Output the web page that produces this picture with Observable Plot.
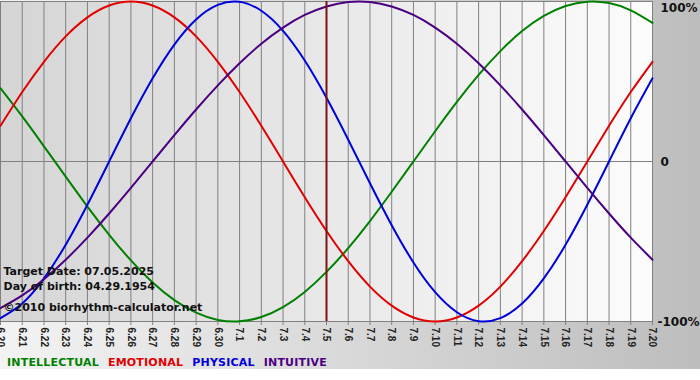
<!DOCTYPE html>
<html><head><meta charset="utf-8">
<script src="https://cdn.jsdelivr.net/npm/d3@7"></script>
<script src="https://cdn.jsdelivr.net/npm/@observablehq/plot@0.6"></script>
<style>
body{margin:0;background:#fff;}
#wrap{width:700px;height:369px;background:linear-gradient(to right,#f3f3f3,#bdbdbd);position:relative;overflow:hidden}
#chart svg{display:block}
#legend{position:absolute;left:7px;top:355px;font:bold 11px "DejaVu Sans";white-space:nowrap;line-height:15px;letter-spacing:0.2px}
#legend span{margin-right:9px}
</style></head>
<body><div id="wrap"><div id="chart"></div><div id="legend"></div></div>
<script>
const days = ["6.20","6.21","6.22","6.23","6.24","6.25","6.26","6.27","6.28","6.29","6.30",
  "7.1","7.2","7.3","7.4","7.5","7.6","7.7","7.8","7.9","7.10","7.11","7.12","7.13","7.14",
  "7.15","7.16","7.17","7.18","7.19","7.20"];
const intellectual = [0.458,0.282,0.095,-0.095,-0.282,-0.458,-0.618,-0.756,-0.866,-0.945,-0.990,
  -0.999,-0.972,-0.910,-0.815,-0.690,-0.541,-0.372,-0.189,0,0.189,0.372,0.541,0.690,0.815,
  0.910,0.972,0.999,0.990,0.945,0.866];
const emotional = [0.223,0.434,0.623,0.782,0.901,0.975,1.0,0.975,0.901,0.782,0.623,
  0.434,0.223,0,-0.223,-0.434,-0.623,-0.782,-0.901,-0.975,-1.0,-0.975,-0.901,-0.782,-0.623,
  -0.434,-0.223,0,0.223,0.434,0.623];
const physical = [-0.979,-0.888,-0.731,-0.520,-0.270,0,0.270,0.520,0.731,0.888,0.979,
  0.998,0.942,0.817,0.631,0.398,0.136,-0.136,-0.398,-0.631,-0.817,-0.942,-0.998,-0.979,-0.888,
  -0.731,-0.520,-0.270,0,0.270,0.520];
const intuitive = [-0.916,-0.837,-0.736,-0.614,-0.476,-0.325,-0.165,0,0.165,0.325,0.476,
  0.614,0.736,0.837,0.916,0.969,0.997,0.997,0.969,0.916,0.837,0.736,0.614,0.476,0.325,
  0.165,0,-0.165,-0.325,-0.476,-0.614];
const seriesNames = ["INTELLECTUAL","EMOTIONAL","PHYSICAL","INTUITIVE"];
const seriesColors = ["#008000","#e00000","#0000dd","#4b0082"];
const yTickValues = [1, 0, -1];
const yTickLabels = ["100%", "0", "-100%"];
const targetDay = "7.5";
const infoLines = ["Target Date: 07.05.2025", "Day of birth: 04.29.1954", "©2010 biorhythm-calculator.net"];

const idx = days.map((d, i) => i);
const series = [intellectual, emotional, physical, intuitive];
const targetIndex = days.indexOf(targetDay);
const yTicks = yTickValues.map((v, i) => ({v, label: yTickLabels[i]}));

const lineMarks = series.map((arr, k) =>
  Plot.line(arr, {x: (d, i) => i, y: d => d, stroke: seriesColors[k], strokeWidth: 2, curve: "natural"}));

const labelStyle = {textAnchor: "start", fontSize: 12, fontWeight: "bold", fontFamily: "DejaVu Sans", fill: "#111"};

const chart = Plot.plot({
  width: 700, height: 350,
  marginLeft: 0, marginRight: 48, marginTop: 1, marginBottom: 29,
  style: {background: "transparent", overflow: "visible"},
  x: {domain: [0, days.length - 1], axis: null},
  y: {domain: [-1, 1], axis: null},
  marks: [
    Plot.frame({fill: "url(#plotBg)", stroke: null}),
    Plot.ruleX(idx, {stroke: "#808080", strokeWidth: 1, strokeOpacity: 1}),
    Plot.ruleY(yTickValues, {stroke: "#808080", strokeWidth: 1}),
    Plot.axisX({ticks: idx, tickFormat: i => days[i], tickRotate: 90, tickSize: 4, tickPadding: 2,
      fontSize: 10, fontWeight: "bold", fontFamily: "Liberation Sans", fill: "#222", stroke: "#808080", label: null}),
    ...lineMarks,
    Plot.ruleX([targetIndex], {stroke: "#7a1414", strokeWidth: 2}),
    Plot.text(yTicks.filter(d => d.v === 1), {x: days.length - 1, y: "v", text: "label", dx: 8, dy: 7, ...labelStyle}),
    Plot.text(yTicks.filter(d => d.v === 0), {x: days.length - 1, y: "v", text: "label", dx: 8, dy: 1, ...labelStyle}),
    Plot.text(yTicks.filter(d => d.v === -1), {x: days.length - 1, y: "v", text: "label", dx: 5, dy: 1, ...labelStyle}),
    ...infoLines.map((t, k) => Plot.text([t], {frameAnchor: "bottom-left", dx: 3, dy: [-47, -32, -11][k],
      textAnchor: "start", fontSize: 11, fontWeight: "bold", fontFamily: "DejaVu Sans", fill: "#111"}))
  ]
});

const svg = d3.select(chart);
const defs = svg.insert("defs", ":first-child");
const g = defs.append("linearGradient").attr("id", "plotBg").attr("x1", "0").attr("x2", "1").attr("y1", "0").attr("y2", "0");
g.append("stop").attr("offset", "0").attr("stop-color", "#d5d5d5");
g.append("stop").attr("offset", "1").attr("stop-color", "#fcfcfc");
document.getElementById("chart").appendChild(chart);

const legend = d3.select("#legend");
seriesNames.forEach((n, k) => legend.append("span").style("color", seriesColors[k]).text(n));
</script>
</body></html>
